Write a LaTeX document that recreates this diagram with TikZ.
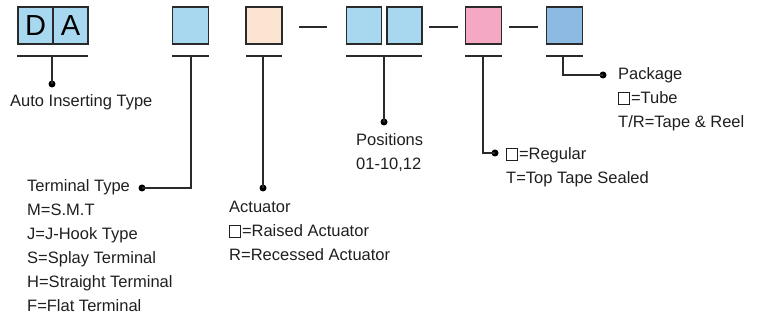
\documentclass[tikz,border=0pt]{standalone}
\usepackage{fontspec}
\setmainfont{Liberation Sans}
\newcommand\optbox{{\setlength{\fboxsep}{0pt}\setlength{\fboxrule}{0.9pt}\fbox{\rule{0pt}{11pt}\rule{9.5pt}{0pt}}}\kern1.5pt}
\definecolor{lblue}{HTML}{A8D8F0}
\definecolor{peach}{HTML}{FBE5D2}
\definecolor{pink}{HTML}{F4A8C4}
\definecolor{mblue}{HTML}{8DBAE3}
\definecolor{ink}{HTML}{2A2A2A}
\begin{document}
\begin{tikzpicture}[x=1pt,y=-1pt,
 cell/.style={draw=ink,line width=1.4pt,minimum width=36pt,minimum height=37pt,inner sep=0pt},
 bar/.style={line width=1.4pt,draw=ink},
 lead/.style={line width=1.4pt,draw=ink},
 dot/.style={circle,fill=black,inner sep=0pt,minimum size=7pt},
 lbl/.style={anchor=base west,inner sep=0pt,font=\fontsize{16.5}{24}\selectfont,align=left,text=black!88}]
\useasboundingbox (0,0) rectangle (764,320);
% boxes
\node[cell,fill=lblue,minimum width=35pt,font=\fontsize{29}{30}\selectfont] (d) at (35.5,25.5) {D};
\node[cell,fill=lblue,minimum width=35pt,font=\fontsize{29}{30}\selectfont] (a) at (70.5,25.5) {A};
\node[cell,fill=lblue] (t) at (190.5,25.5) {};
\node[cell,fill=peach] (ac) at (264,25.5) {};
\node[cell,fill=lblue,minimum width=35pt] (p1) at (364,25.5) {};
\node[cell,fill=lblue,minimum width=35pt] (p2) at (404.5,25.5) {};
\node[cell,fill=pink] (r) at (483.5,25.5) {};
\node[cell,fill=mblue] (k) at (564.5,25.5) {};
% separators
\draw[bar] (299,27) -- (327,27);
\draw[bar] (429,27) -- (458,27);
\draw[bar] (509,27) -- (538,27);
% bars
\draw[bar] (17,56) -- (88,56);
\draw[bar] (172,56) -- (209,56);
\draw[bar] (246,56) -- (282,56);
\draw[bar] (346,56) -- (422,56);
\draw[bar] (465,56) -- (502,56);
\draw[bar] (546,56) -- (583,56);
% dots
\node[dot] (dda) at (52,84) {};
\node[dot] (dt) at (142,188) {};
\node[dot] (dac) at (263,188) {};
\node[dot] (dp) at (384,122) {};
\node[dot] (dr) at (495,153) {};
\node[dot] (dk) at (603,75) {};
% leads
\coordinate (bda) at (52,56);
\coordinate (bt) at (191,56);
\coordinate (bac) at (263,56);
\coordinate (bp) at (384,56);
\coordinate (br) at (483,56);
\coordinate (bk) at (563,56);
\draw[lead] (bda) -- (dda.center);
\draw[lead] (bt) |- (dt.center);
\draw[lead] (bac) -- (dac.center);
\draw[lead] (bp) -- (dp.center);
\draw[lead] (br) |- (dr.center);
\draw[lead] (bk) |- (dk.center);
% labels (anchor = baseline of last line)
\node[lbl] (lda) at (10,107) {Auto Inserting Type};
\node[lbl] (lt) at (27,312) {Terminal Type\\M=S.M.T\\J=J-Hook Type\\S=Splay Terminal\\H=Straight Terminal\\F=Flat Terminal};
\node[lbl] (lac) at (229,261) {Actuator\\\optbox=Raised Actuator\\R=Recessed Actuator};
\node[lbl] (lp) at (356,170) {Positions\\01-10,12};
\node[lbl] (lr) at (506,184) {\optbox=Regular\\T=Top Tape Sealed};
\node[lbl] (lk) at (618,128) {Package\\\optbox=Tube\\T/R=Tape \& Reel};
\end{tikzpicture}
\end{document}
